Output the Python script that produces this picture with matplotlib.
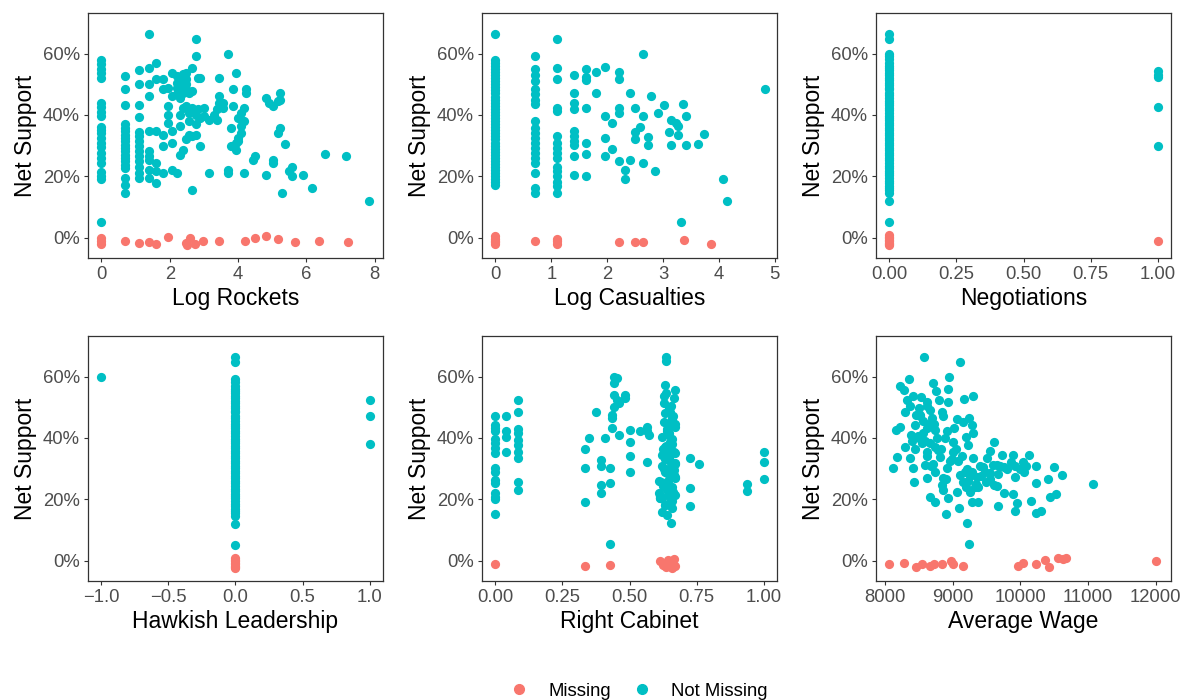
import matplotlib
matplotlib.use("Agg")
import matplotlib.pyplot as plt
from matplotlib.lines import Line2D
from matplotlib.ticker import FuncFormatter

plt.rcParams['font.family'] = ['Liberation Sans', 'DejaVu Sans']

RED = '#F8766D'
TEAL = '#00BFC4'

# ---------------------------------------------------------------- data (net support in %)
# Log Rockets
rockets_x = [0]*22 + [0.69]*20 + [1.1]*14 + [1.39]*10 + [1.61]*6 + [1.79]*5 + [1.95]*4 + \
    [2.08]*5 + [2.2]*5 + [2.3]*6 + [2.4]*6 + [2.48]*6 + [2.56]*4 + [2.64]*5 + [2.77]*5 + \
    [2.83]*2 + [2.89]*3 + [3.0]*2 + [3.14]*2 + [3.31, 3.37, 3.37, 3.44, 3.44, 3.44, 3.55, 3.55,
    3.70, 3.70, 3.70, 3.78, 3.78, 3.84, 3.84, 3.84, 3.94, 3.94, 3.94, 3.99, 3.99, 3.99,
    4.09, 4.09, 4.09, 4.18, 4.18, 4.18, 4.23, 4.23, 4.43, 4.51, 4.82, 4.82, 4.91, 5.01, 5.01,
    5.01, 5.16, 5.16, 5.24, 5.24, 5.24, 5.28, 5.37, 5.50, 5.57, 5.57, 5.89, 6.16, 6.55, 7.15, 7.83]
rockets_y = [58, 56.5, 55, 53.5, 52, 44, 42.5, 41, 39.5, 36, 35, 34, 32.5, 31, 29.5, 27.5, 26,
             24.5, 21.5, 20, 19, 5.2,
             52.7, 48.3, 43.1, 36.9, 35.8, 34.7, 33.6, 32.5, 31.4, 30.3, 29.2, 28.1, 27, 26,
             24.9, 23.8, 22.7, 19.4, 17.2, 14.7,
             54.6, 50, 43.1, 39.3, 34.4, 33, 31.4, 29.8, 28.1, 26.5, 24.9, 23.2, 21, 19.4,
             66.3, 55.4, 50, 46.1, 34.7, 28.1, 26.5, 25.4, 22.1, 19.4,
             57, 51.6, 34.7, 24.3, 21.6, 17.8,
             51.6, 48.3, 33.6, 29.8, 21,
             42.9, 40.1, 37.4, 48.9,
             53.5, 46.1, 34.7, 30.9, 22.1,
             52.7, 50.5, 48.9, 46.7, 21,
             51, 48.3, 45.6, 40.1, 36.3, 27,
             53.2, 51, 48.9, 47.2, 42.3, 28.7,
             53.8, 51.6, 50, 48.3, 42.9, 32,
             47.2, 40.7, 37.9, 33.6,
             55.4, 47.8, 42.3, 33, 15.6,
             64.7, 59.2, 40.1, 36.9, 33.6,
             52.1, 41.8,
             52.1, 39, 29.8,
             42.3, 39.6,
             38.5, 21,
             40.1, 41.8, 38.5, 52.1, 46.1, 44, 44, 42.3,
             59.8, 22.1, 21, 35.8, 29.8, 48.3, 42.9, 29.8, 53.8, 30.9, 28.7, 39, 32.5, 31.4,
             40.7, 36.3, 34.1, 42.3, 37.9, 21, 48.3, 47.2, 25.4, 26.5, 45.6, 20.5, 44, 42.9,
             25.4, 24.3, 34.1, 44.5, 47.2, 45, 35.8, 14.7, 30.6, 21.6, 23.2, 20, 20.5, 16.1,
             27.4, 26.7, 12.1]
rockets_miss_x = [0, 0, 0, 0.69, 1.1, 1.39, 1.61, 1.95, 2.48, 2.52, 2.6, 2.75, 2.98, 3.43,
                  4.2, 4.5, 4.82, 5.16, 5.68, 6.37, 7.23]
rockets_miss_y = [-0.2, -1.0, -2.0, -1.1, -1.6, -1.5, -2.0, 0.3, -1.6, -2.4, -0.2, -2.2,
                  -1.1, -0.9, -1.1, -0.2, 0.5, -0.5, -1.3, -1.0, -1.5]

# Log Casualties
cas_x = [0]*43 + [0.70]*20 + [1.11]*16 + [1.40]*10 + [1.62]*7 + [1.80]*2 + [1.96]*4 + \
    [2.09]*2 + [2.22]*5 + [2.32]*2 + [2.41]*2 + [2.49]*3 + [2.58, 2.65, 2.65, 2.65, 2.73,
    2.73, 2.79, 2.85, 2.91, 3.01, 3.11, 3.15, 3.15, 3.23, 3.27, 3.27, 3.32, 3.35, 3.42, 3.42,
    3.63, 3.73, 4.08, 4.15, 4.83]
cas_y = [66.3, 58, 57, 56, 55, 54, 53, 52, 51, 50, 49, 48, 47, 46, 45, 44, 43, 42, 41, 40,
         39, 38, 37, 36, 35, 34, 33, 32, 31, 30, 29, 28, 27, 26, 25, 24, 23, 22, 21, 20, 19,
         18, 17.2,
         59.2, 54.9, 52.9, 51, 48.3, 46.7, 45, 43.4, 38, 35.8, 34.1, 32.5, 30.9, 29.2, 27.6,
         26, 24.3, 21, 16.1, 14.7,
         64.7, 55.4, 51.6, 42.3, 41.2, 33, 30.9, 29.2, 27.6, 26, 23.2, 21.6, 20, 18.3, 16.7,
         14.7,
         52.9, 47.2, 44, 41.8, 34.7, 33, 31.4, 30.3, 26.7, 20.5,
         54.9, 52.5, 51.5, 42.3, 30.9, 27.4, 20,
         54, 47,
         55.6, 39.8, 32.5, 26.7,
         37.4, 28.9,
         54, 51.6, 42.3, 40.7, 24.9,
         22.1, 19.1,
         47.2, 25.2,
         42.3, 34.4, 32,
         36, 60, 39.8, 24.3, 32.8, 30.3, 46.3, 21.9, 40.7, 43.1, 34.4, 38.5, 30.2, 37.4, 36.3,
         33.6, 5.2, 43.7, 39.8, 30.2, 30.6, 33.9, 19.1, 12.1, 48.5]
cas_miss_x = [0, 0, 0, 0, 0, 0.70, 1.11, 1.11, 1.11, 2.22, 2.49, 2.65, 3.37, 3.86]
cas_miss_y = [0.5, -0.5, -1.0, -1.5, -2.0, -1.1, -0.5, -1.2, -2.0, -1.3, -1.3, -1.4, -0.8, -1.9]

# dense column of observations at zero (negotiations / hawkish leadership)
zero_col_y = [66.3, 64.7, 59.2, 58.1, 57.0, 55.9, 55.4, 54.6, 53.8, 52.9, 52.1, 51.3, 50.5,
              49.7, 48.9, 48.3, 47.2, 46.4, 45.6, 44.7, 44.0, 43.1, 42.3, 41.5, 40.7, 39.8,
              39.0, 38.3, 37.4, 36.6, 35.8, 35.0, 34.1, 33.4, 32.5, 31.7, 30.9, 30.1, 29.2,
              28.5, 27.6, 26.8, 26.0, 25.2, 24.3, 23.5, 22.7, 21.9, 21.0, 20.3, 19.4, 18.6,
              17.8, 17.0, 16.1, 15.4, 14.7, 12.1, 5.2]
zero_miss_y = [0.8, 0.3, -0.2, -0.7, -1.1, -1.6, -2.0, -2.4]

# Negotiations
neg_x = [0]*len(zero_col_y) + [0, 1, 1, 1, 1, 1]
neg_y = zero_col_y + [60.0, 54.3, 53.0, 52.5, 42.5, 29.8]
neg_miss_x = [0]*len(zero_miss_y) + [1]
neg_miss_y = zero_miss_y + [-1.0]

# Hawkish Leadership
hawk_x = [0]*len(zero_col_y) + [-1, 1, 1, 1]
hawk_y = zero_col_y + [60.0, 52.4, 47.2, 38.0]
hawk_miss_x = [0]*len(zero_miss_y)
hawk_miss_y = zero_miss_y

# Right Cabinet
cab_x = [0]*16 + [0.041]*4 + [0.084]*10 + [0.333]*3 + [0.348, 0.376] + [0.394]*4 + \
    [0.407] + [0.426]*3 + [0.435]*3 + [0.441]*4 + [0.453]*2 + [0.460]*2 + [0.482]*2 + \
    [0.501]*4 + [0.540] + [0.565]*3 + [0.571] + \
    [0.636, 0.636, 0.631, 0.671, 0.636, 0.665, 0.627, 0.646, 0.634, 0.658, 0.627, 0.668, 0.640,
     0.621, 0.652, 0.634, 0.665, 0.621, 0.646, 0.671, 0.621, 0.658, 0.640, 0.671, 0.609, 0.627,
     0.658, 0.640, 0.609, 0.671, 0.621, 0.652, 0.634, 0.658, 0.621, 0.640, 0.656, 0.650, 0.660,
     0.630, 0.668, 0.643, 0.655, 0.662, 0.615, 0.648, 0.633, 0.666, 0.645, 0.612, 0.654,
     0.628, 0.650, 0.668, 0.638, 0.660, 0.625, 0.647, 0.670, 0.632, 0.655, 0.618, 0.642, 0.663,
     0.636, 0.652, 0.669, 0.624, 0.645, 0.660, 0.614, 0.633, 0.657, 0.648, 0.638, 0.666] + \
    [0.727]*3 + [0.761] + [0.938]*2 + [1.0]*3
cab_y = [47.2, 44.2, 43.2, 42.1, 39.6, 38.3, 36.6, 35, 30.1, 28.8, 26.3, 25.2, 22, 20.9, 20,
         15.1,
         47.2, 42.1, 40.4, 35.5,
         52.4, 48.4, 42.8, 41.5, 39.3, 37.7, 35.5, 33.4, 25.8, 23,
         36.4, 30.3, 19.2, 40.1, 48.4,
         32.8, 30.7, 24.7, 22,
         40.1,
         30.3, 25.2, 5.3,
         47.5, 46.4, 43.2,
         60, 57.8, 54, 50.2,
         59.5, 52.4,
         41, 51.3,
         54, 52.9,
         42.6, 38.6, 34.1, 29,
         42.1,
         43.7, 42.1, 32.1,
         41,
         66.5, 64.9, 57.3, 55.7, 54.6, 52.9, 51.3, 49.7, 48, 46.4, 45.3, 43.7, 42.1, 40.4, 38.8,
         37.2, 35.5, 34.5, 33.4, 31.7, 30.7, 29.6, 28.5, 27.4, 26, 25.2, 24.1, 23, 22, 21.4,
         20.3, 19.2, 18.2, 17.1, 15.8, 14.9, 12.2, 45, 38, 30, 35, 26, 50.5, 47, 21, 41, 33,
         28, 36, 20.5, 31,
         53.5, 48.5, 44.5, 43, 39.5, 36.5, 33.5, 31.5, 29, 27.5, 25.5, 24, 22.5, 37.5, 32.5,
         27, 24.5, 21.5, 19.5, 20.5, 18, 46, 41.5, 35.5, 29.5,
         33.4, 23.8, 17.9,
         31.4,
         25, 22.7,
         35.5, 32, 26.5]
cab_miss_x = [0, 0.333, 0.426, 0.615, 0.625, 0.635, 0.645, 0.655, 0.665, 0.670, 0.640, 0.660]
cab_miss_y = [-1.1, -1.6, -1.4, -0.2, -1.5, -2.2, 0.3, -0.8, 0.5, -1.8, -1.0, -2.3]

# Average Wage
wage_x = [8574, 9104, 8344, 8947, 8712, 8211, 8923, 8746, 8270, 9301, 8407, 8530, 8613, 9163,
          8932, 8319, 8800, 8358, 8505, 8294, 8663, 8834, 8515, 8859, 9055, 9242, 9153, 9276,
          8221, 8162, 8442, 8613, 8731, 8908, 9016, 9291, 8564, 8378, 8491, 8884, 9193, 8294,
          8663, 8741, 8996, 9222, 9615, 8442, 9546, 8623, 9006, 9732, 9894, 10125, 8172, 8368,
          9291, 9507, 8810, 10037, 9080, 9659, 9399, 9595, 8589, 10233, 10503, 8113, 8407,
          8908, 9203, 9914, 9276, 8736, 10047, 10621, 9674, 9546, 8613, 9364, 9914, 10405,
          8417, 9153, 9497, 9605, 10233, 11068, 9659, 8834, 9374, 9055, 8859, 9252, 9757, 9894,
          10527, 10444, 8663, 8741, 8932, 9276, 9374, 10160, 9944, 9094, 9669, 9914, 10233,
          10307, 8893, 9202, 9242,
          8560, 8690, 8480, 8780, 8620, 8950, 8700, 8520, 8860, 9100, 9230, 9320, 8400, 8650,
          9450, 9700, 9800, 10000, 9550, 9180,
          8590, 8760, 8450, 8680, 8540, 8830, 8980, 9040, 9130, 9260, 9340, 9420, 9480, 9760,
          9860, 10080, 8720, 8620, 8900, 9200]
wage_y = [66.2, 64.7, 59.1, 59.9, 58, 57, 55.9, 55.3, 55.7, 53.8, 53.8, 53.2, 51.8, 52.6,
          51.8, 52.4, 52.4, 50.5, 49.9, 48.6, 49.1, 48.3, 47.5, 47.3, 46.2, 46.4, 45.3, 44.2,
          43.7, 42.6, 44.2, 43.2, 42.6, 42.1, 43.2, 41.5, 41.5, 41, 39.9, 39.9, 40.4, 37.2,
          38.3, 37.2, 38.6, 37.7, 38.6, 36.4, 35.8, 35.5, 35.3, 34.5, 34.5, 34.5, 33.9, 33.6,
          33.4, 33.4, 33.9, 32.3, 32.5, 31.2, 31, 31.2, 31.2, 30.7, 30.4, 30.1, 30.1, 30.3,
          29.9, 31, 28.8, 29, 28.8, 27.9, 28.2, 28.5, 26.8, 27.4, 27.2, 26.6, 25.8, 25.5, 25.8,
          24.7, 25.2, 25, 24.3, 24.7, 24.1, 22.5, 23, 22.5, 22, 21.6, 21.7, 20.9, 20.9, 19.2,
          20.3, 19.2, 19.2, 19.5, 18.7, 17.3, 17.8, 16.3, 15.4, 16.2, 15.1, 12.4, 5.4,
          45.5, 46.5, 40.5, 36, 34, 32.5, 31.5, 47, 27, 28, 26, 24, 39, 44.5, 30.5, 31, 30,
          30, 26.5, 29,
          39, 40, 47.5, 31, 38.5, 36.5, 33, 36.5, 34, 27.5, 25, 27.5, 29, 30.5, 32, 31,
          44.5, 50.5, 26.5, 24]
wage_miss_x = [8054, 8280, 8456, 8540, 8663, 8721, 8834, 8967, 8996, 9144, 9963, 10037,
               10223, 10356, 10420, 10557, 10636, 10675, 12010]
wage_miss_y = [-1.1, -0.7, -2.0, -1.1, -1.6, -0.9, -1.1, -0.2, -1.2, -1.6, -1.6, -0.7, -1.1,
               0.3, -2.0, 1.0, 0.5, 1.0, 0.0]

panels = [
    ('Log Rockets', rockets_x, rockets_y, rockets_miss_x, rockets_miss_y,
     (-0.39, 8.24), [0, 2, 4, 6, 8], '{:.0f}'),
    ('Log Casualties', cas_x, cas_y, cas_miss_x, cas_miss_y,
     (-0.24, 5.04), [0, 1, 2, 3, 4, 5], '{:.0f}'),
    ('Negotiations', neg_x, neg_y, neg_miss_x, neg_miss_y,
     (-0.05, 1.05), [0, 0.25, 0.5, 0.75, 1.0], '{:.2f}'),
    ('Hawkish Leadership', hawk_x, hawk_y, hawk_miss_x, hawk_miss_y,
     (-1.1, 1.1), [-1.0, -0.5, 0.0, 0.5, 1.0], '{:.1f}'),
    ('Right Cabinet', cab_x, cab_y, cab_miss_x, cab_miss_y,
     (-0.05, 1.05), [0, 0.25, 0.5, 0.75, 1.0], '{:.2f}'),
    ('Average Wage', wage_x, wage_y, wage_miss_x, wage_miss_y,
     (7862, 12228), [8000, 9000, 10000, 11000, 12000], '{:.0f}'),
]

# ---------------------------------------------------------------- layout (pixels)
W, H = 1189, 700
fig = plt.figure(figsize=(W / 100, H / 100), dpi=100)
lefts = [88, 482, 876]
tops = [13, 336]
aw, ah = 295, 245

for i, (xlabel, x, y, mx, my, xlim, xticks, fmt) in enumerate(panels):
    r, c = divmod(i, 3)
    ax = fig.add_axes([lefts[c] / W, 1 - (tops[r] + ah) / H, aw / W, ah / H])
    ax.scatter(x, y, s=44, color=TEAL, linewidths=0, zorder=3)
    ax.scatter(mx, my, s=44, color=RED, linewidths=0, zorder=3)
    ax.set_xlim(*xlim)
    ax.set_ylim(-6.6, 73.2)
    ax.set_xticks(xticks)
    ax.xaxis.set_major_formatter(FuncFormatter(lambda v, p, f=fmt: f.format(v).replace('-', '\u2212')))
    ax.set_yticks([0, 20, 40, 60])
    ax.yaxis.set_major_formatter(FuncFormatter(lambda v, p: f'{v:.0f}%'))
    for s in ax.spines.values():
        s.set_color('#333333')
        s.set_linewidth(0.9)
    ax.tick_params(direction='out', length=3.2, width=0.8, color='#333333',
                   labelcolor='#4D4D4D', labelsize=13.3, pad=2.5)
    ax.set_xlabel(xlabel, fontsize=16.5, color='black', labelpad=3)
    ax.set_ylabel('Net Support', fontsize=16.5, color='black', labelpad=4)

handles = [Line2D([], [], marker='o', linestyle='', color=RED, markersize=7, label='Missing'),
           Line2D([], [], marker='o', linestyle='', color=TEAL, markersize=7, label='Not Missing')]
fig.legend(handles=handles, loc='center', bbox_to_anchor=(634 / W, 1 - 691 / H), ncol=2,
           frameon=False, fontsize=13.3, handletextpad=0.57, columnspacing=0.68)

fig.savefig('out.png', dpi=100)
